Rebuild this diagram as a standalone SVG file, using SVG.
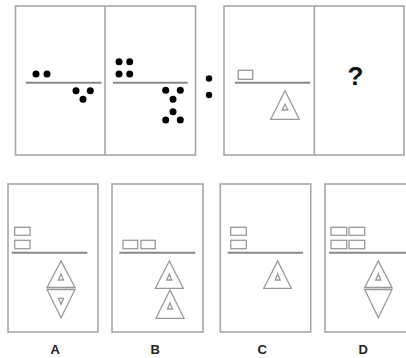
<svg xmlns="http://www.w3.org/2000/svg" width="406" height="358" viewBox="0 0 406 358">
<style>
.frame{fill:none;stroke:#a6a6a6;stroke-width:1.6}
.bar{stroke:#888;stroke-width:2}
.dot{fill:#000}
.sh{fill:none;stroke:#999;stroke-width:1.3}
.lbl{font-family:"Liberation Sans",Arial,sans-serif;font-weight:bold;font-size:13px;fill:#222;text-anchor:middle}
</style>
<rect width="406" height="358" fill="#fff"/>
<g id="set1">
<rect class="frame" x="15.5" y="6" width="180" height="149"/>
<line class="frame" x1="105" y1="6" x2="105" y2="155"/>
<line class="bar" x1="26" y1="82.7" x2="101.5" y2="82.7"/>
<circle class="dot" cx="36" cy="74" r="3.5"/>
<circle class="dot" cx="47" cy="74" r="3.5"/>
<circle class="dot" cx="76" cy="90.7" r="3.5"/>
<circle class="dot" cx="90.3" cy="90.7" r="3.5"/>
<circle class="dot" cx="83" cy="99.3" r="3.5"/>
<line class="bar" x1="113" y1="82.7" x2="187.7" y2="82.7"/>
<circle class="dot" cx="119" cy="61.7" r="3.5"/>
<circle class="dot" cx="129.7" cy="61.7" r="3.5"/>
<circle class="dot" cx="119" cy="74" r="3.5"/>
<circle class="dot" cx="129.7" cy="74" r="3.5"/>
<circle class="dot" cx="165.7" cy="90.3" r="3.5"/>
<circle class="dot" cx="180.3" cy="90.3" r="3.5"/>
<circle class="dot" cx="173" cy="99.3" r="3.5"/>
<circle class="dot" cx="173" cy="111.7" r="3.5"/>
<circle class="dot" cx="165.7" cy="120" r="3.5"/>
<circle class="dot" cx="180.3" cy="120" r="3.5"/>
</g>
<g id="colon">
<circle class="dot" cx="209" cy="78.5" r="3.2"/>
<circle class="dot" cx="209" cy="95" r="3.2"/>
</g>
<g id="set2">
<rect class="frame" x="224" y="6" width="180" height="149"/>
<line class="frame" x1="314.3" y1="6" x2="314.3" y2="155"/>
<line class="bar" x1="235" y1="82.7" x2="310" y2="82.7"/>
<rect class="sh" x="238.3" y="70.3" width="14.4" height="9"/>
<polygon class="sh" points="285,90.7 270.7,119.3 299.3,119.3"/>
<polygon class="sh" points="285,104.3 282.2,110 287.8,110"/>
<text x="355.5" y="85" font-family="Liberation Sans,Arial,sans-serif" font-weight="bold" font-size="26" text-anchor="middle" fill="#111">?</text>
</g>
<g id="optA">
<rect class="frame" x="8" y="184" width="90" height="148"/>
<rect class="sh" x="14.7" y="227.3" width="15.3" height="8"/>
<rect class="sh" x="14.7" y="240.3" width="15.3" height="8.4"/>
<line class="bar" x1="11.7" y1="252.7" x2="87.3" y2="252.7"/>
<polygon class="sh" points="61,261 47,287.5 75,287.5"/>
<polygon class="sh" points="47,289.5 75,289.5 61,317.7"/>
<polygon class="sh" points="61,274 58.5,280 63.5,280"/>
<polygon class="sh" points="58.5,298.3 63.5,298.3 61,304.3"/>
<text class="lbl" x="55.3" y="354">A</text>
</g>
<g id="optB">
<rect class="frame" x="112" y="184" width="91" height="148"/>
<rect class="sh" x="123" y="240.3" width="14.7" height="8.4"/>
<rect class="sh" x="141" y="240.3" width="14.3" height="8.4"/>
<line class="bar" x1="119.3" y1="252.7" x2="195.3" y2="252.7"/>
<polygon class="sh" points="169.3,261 155.3,288.3 183.3,288.3"/>
<polygon class="sh" points="169.3,274 166.8,280 171.8,280"/>
<polygon class="sh" points="170,290 156,318.3 184,318.3"/>
<polygon class="sh" points="170,303 167.5,309 172.5,309"/>
<text class="lbl" x="155.3" y="354">B</text>
</g>
<g id="optC">
<rect class="frame" x="220.3" y="184" width="90.4" height="148"/>
<rect class="sh" x="230.7" y="227.3" width="15.6" height="8"/>
<rect class="sh" x="230.7" y="240.3" width="15.6" height="8.4"/>
<line class="bar" x1="227.7" y1="252.7" x2="303" y2="252.7"/>
<polygon class="sh" points="277.7,261 263.7,288.3 291.3,288.3"/>
<polygon class="sh" points="277.7,274 275.2,280 280.2,280"/>
<text class="lbl" x="262.3" y="354">C</text>
</g>
<g id="optD">
<rect class="frame" x="325" y="184" width="91" height="148"/>
<rect class="sh" x="331" y="227.3" width="15.7" height="8"/>
<rect class="sh" x="349" y="227.3" width="15.7" height="8"/>
<rect class="sh" x="331" y="240.3" width="15.7" height="8.4"/>
<rect class="sh" x="349" y="240.3" width="15.7" height="8.4"/>
<line class="bar" x1="329" y1="252.7" x2="406" y2="252.7"/>
<polygon class="sh" points="378.3,261 364.7,287.5 392,287.5"/>
<polygon class="sh" points="364.7,289.5 392,289.5 378.3,317.7"/>
<polygon class="sh" points="378.3,274 375.8,280 380.8,280"/>
<text class="lbl" x="363.3" y="354">D</text>
</g>
</svg>
